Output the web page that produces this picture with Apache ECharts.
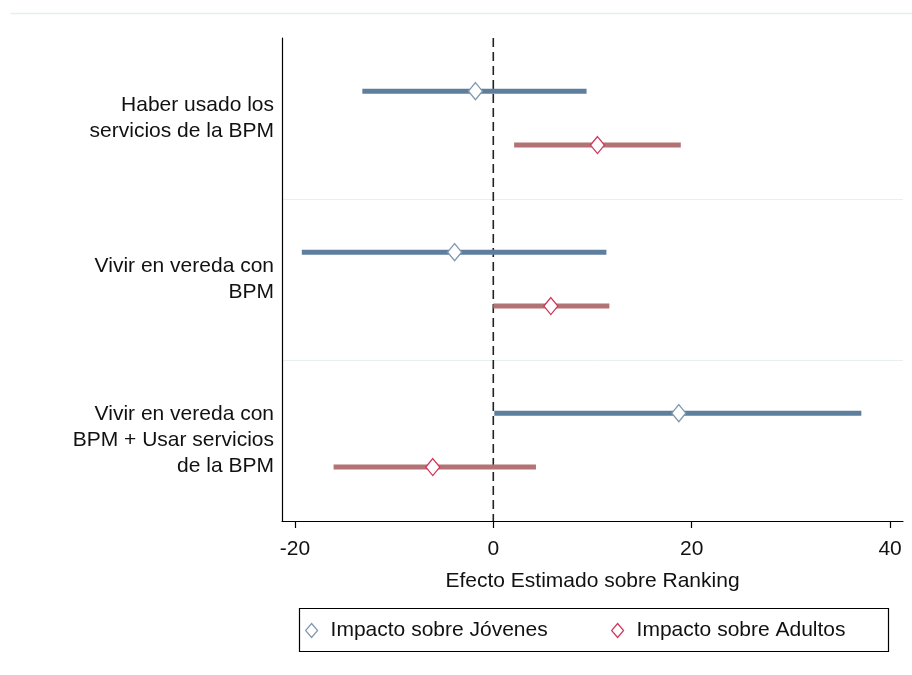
<!DOCTYPE html>
<html>
<head>
<meta charset="utf-8">
<script src="https://cdn.jsdelivr.net/npm/echarts@6/dist/echarts.min.js"></script>
<style>
html,body{margin:0;padding:0;background:#fff;}
#chart{width:912px;height:675px;}
</style>
</head>
<body>
<div id="chart"></div>
<script>
const categories = ['Haber usado los\nservicios de la BPM', 'Vivir en vereda con\nBPM', 'Vivir en vereda con\nBPM + Usar servicios\nde la BPM'];
const jovenesEst = [-1.8, -3.9, 18.7];
const jovenesLo = [-13.2, -19.3, 0.1];
const jovenesHi = [9.4, 11.4, 37.1];
const adultosEst = [10.5, 5.8, -6.1];
const adultosLo = [2.1, 0.0, -16.1];
const adultosHi = [18.9, 11.7, 4.3];
const xTicks = [-20, 0, 20, 40];
const referenceLine = [0];
const seriesNames = ['Impacto sobre Jóvenes', 'Impacto sobre Adultos'];

const FONT = '"Liberation Sans", Arial, sans-serif';
const TEXT = '#111';
const FS = 21;

function rows(lo, hi, est) {
  return categories.map((c, i) => [lo[i], hi[i], est[i], i]);
}

function makeRender(offset, lineColor, markColor) {
  return function (params, api) {
    const yi = api.value(3);
    const band = api.size([0, 1])[1];
    const dy = offset * band;
    const a = api.coord([api.value(0), yi]);
    const b = api.coord([api.value(1), yi]);
    const p = api.coord([api.value(2), yi]);
    const y = a[1] + dy;
    const px = p[0], py = p[1] + dy;
    const hw = 7, hh = 8.5;
    return {
      type: 'group',
      children: [
        { type: 'line', shape: { x1: a[0], y1: y, x2: b[0], y2: y },
          style: { stroke: lineColor, lineWidth: 5, lineCap: 'butt' } },
        { type: 'polygon', shape: { points: [[px, py - hh], [px + hw, py], [px, py + hh], [px - hw, py]] },
          style: { fill: '#fff', stroke: markColor, lineWidth: 1.3 } }
      ]
    };
  };
}

function renderZero(params, api) {
  const cs = params.coordSys;
  const x = api.coord([api.value(0), 0])[0];
  return {
    type: 'line',
    shape: { x1: x, y1: cs.y, x2: x, y2: cs.y + cs.height },
    style: { stroke: '#222', lineWidth: 1.6, lineDash: [9, 5] }
  };
}

const J_LINE = '#5d7e9c', J_MARK = '#7f98ae';
const A_LINE = '#b37273', A_MARK = '#d3355a';

const chart = echarts.init(document.getElementById('chart'), null, { renderer: 'canvas' });
chart.setOption({
  animation: false,
  backgroundColor: '#fff',
  textStyle: { fontFamily: FONT },
  grid: { left: 282, right: 9, top: 38, bottom: 154, containLabel: false },
  xAxis: {
    type: 'value', min: -21.3, max: 41.3,
    name: 'Efecto Estimado sobre Ranking', nameLocation: 'middle', nameGap: 50,
    nameTextStyle: { color: TEXT, fontSize: FS, fontFamily: FONT },
    axisLine: { show: true, onZero: false, lineStyle: { color: '#000', width: 1.2 } },
    axisTick: { show: true, length: 7, lineStyle: { color: '#000', width: 1.2 }, customValues: xTicks },
    axisLabel: { color: TEXT, fontSize: FS, fontFamily: FONT, margin: 18, customValues: xTicks },
    splitLine: { show: false }
  },
  yAxis: {
    type: 'category', inverse: true, data: categories,
    axisLine: { show: true, onZero: false, lineStyle: { color: '#000', width: 1.2 } },
    axisTick: { show: false },
    axisLabel: { color: TEXT, fontSize: FS, fontFamily: FONT, lineHeight: 26, margin: 8, align: 'right' },
    splitLine: { show: true, showMinLine: false, showMaxLine: false, lineStyle: { color: '#e9eff1', width: 1 } }
  },
  legend: [
    { left: 305, top: 620, itemWidth: 12, itemHeight: 14, itemGap: 0, padding: 0,
      data: [{ name: seriesNames[0], icon: 'diamond', itemStyle: { color: '#fff', borderColor: J_MARK, borderWidth: 1.2 } }],
      textStyle: { color: TEXT, fontSize: FS, fontFamily: FONT, padding: [0, 0, 0, 8] } },
    { left: 611, top: 620, itemWidth: 12, itemHeight: 14, itemGap: 0, padding: 0,
      data: [{ name: seriesNames[1], icon: 'diamond', itemStyle: { color: '#fff', borderColor: A_MARK, borderWidth: 1.2 } }],
      textStyle: { color: TEXT, fontSize: FS, fontFamily: FONT, padding: [0, 0, 0, 8] } }
  ],
  graphic: [
    { type: 'rect', left: 297, top: 606, shape: { width: 589, height: 43 },
      style: { fill: 'none', stroke: '#000', lineWidth: 1.2 }, silent: true, z: 100 },
    { type: 'line', left: 8, top: 11, shape: { x1: 0, y1: 0, x2: 904, y2: 0 },
      style: { stroke: '#e8eef0', lineWidth: 1.5 }, silent: true }
  ],
  series: [
    {
      type: 'custom', name: 'zero',
      data: referenceLine.map(v => [v]),
      encode: { x: 0 },
      renderItem: renderZero,
      silent: true, z: 2
    },
    {
      type: 'custom', name: seriesNames[0],
      data: rows(jovenesLo, jovenesHi, jovenesEst),
      encode: { x: [0, 1, 2], y: 3 },
      itemStyle: { color: J_LINE },
      renderItem: makeRender(-0.17, J_LINE, J_MARK),
      z: 3
    },
    {
      type: 'custom', name: seriesNames[1],
      data: rows(adultosLo, adultosHi, adultosEst),
      encode: { x: [0, 1, 2], y: 3 },
      itemStyle: { color: A_LINE },
      renderItem: makeRender(0.165, A_LINE, A_MARK),
      z: 3
    }
  ]
});
</script>
</body>
</html>
